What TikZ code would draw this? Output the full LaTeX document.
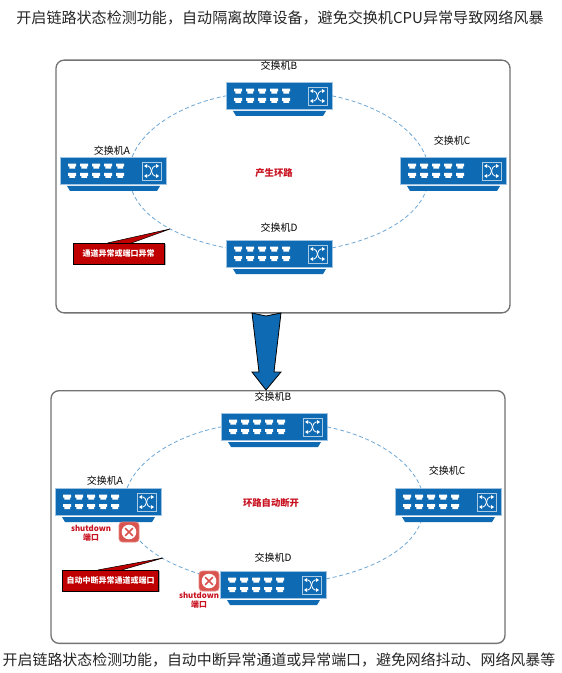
\documentclass[tikz,border=0pt]{standalone}
\usepackage{fontspec}
\setmainfont{Noto Sans CJK SC}
\usetikzlibrary{calc}
\definecolor{swblue}{HTML}{0F6AB4}
\definecolor{ringblue}{HTML}{6FA8D6}
\definecolor{calloutred}{HTML}{C00000}
\definecolor{labelred}{HTML}{C8101E}
\definecolor{iconred}{HTML}{D9534F}
\newcommand{\fs}[1]{\fontsize{#1}{#1}\selectfont}
\tikzset{
  x=0.75pt,y=-0.75pt,
  frame/.style={draw=black!55,line width=1pt,rounded corners=6pt,inner sep=0pt,minimum width=340.5pt,minimum height=189.5pt,fill=white},
  swbody/.style={fill=swblue,draw=swblue!40,line width=.2pt,inner sep=0pt,minimum width=79.5pt,minimum height=20.25pt},
  swlabel/.style={font=\fs{7.5pt},text=black,inner sep=0pt},
  ring/.style={draw=ringblue,line width=.6pt,dash pattern=on 3pt off 2pt},
  midlabel/.style={font=\fs{7pt}\bfseries,text=labelred,inner sep=0pt},
  sdlabel/.style={font=\fs{5.9pt}\bfseries,text=labelred,inner sep=0pt,align=center},
  calloutbox/.style={fill=calloutred,draw=black,line width=.4pt,inner sep=0pt,text=white,font=\fs{6pt}\bfseries},
  title/.style={text=black!85,inner sep=0pt},
  pics/switch/.style={code={
    \node[swbody] (-b) at (53,13.5) {};
    \fill[swblue] (7,29) -- (100,29) -- (97,34) -- (10,34) -- cycle;
    \foreach \px in {8.2,20.2,32.2,44.2,56.2}{
      \foreach \py in {6.7,16}{
        \fill[white] (\px,\py) -- ++(8,0) -- ++(0,2.8) -- ++(-1.2,0) -- ++(0,2.2) -- ++(-5.6,0) -- ++(0,-2.2) -- ++(-1.2,0) -- cycle;
      }
    }
    \draw[swblue!35!white,line width=.6pt] (82,5) rectangle (101,23);
    \draw[white,line width=.6pt] (85,9) -- (88,9) .. controls (92,9) and (91,19) .. (95,19) -- (98,19);
    \draw[white,line width=.6pt] (85,19) -- (88,19) .. controls (92,19) and (91,9) .. (95,9) -- (98,9);
    \fill[white] (99,9) -- (96,7) -- (96,11) -- cycle (99,19) -- (96,17) -- (96,21) -- cycle;
    \fill[white] (84,9) -- (87,7) -- (87,11) -- cycle (84,19) -- (87,17) -- (87,21) -- cycle;
  }},
  pics/faulticon/.style={code={
    \draw[fill=iconred,draw=iconred!70!white,line width=.5pt,rounded corners=2.5pt] (-10,-10) rectangle (10,10);
    \fill[white] (0,0) circle (7.3);
    \draw[iconred,line width=1.2pt] (-3.8,-3.8) -- (3.8,3.8) (-3.8,3.8) -- (3.8,-3.8);
  }},
}
\begin{document}
\begin{tikzpicture}
\useasboundingbox (0,0) rectangle (561,673);
\fill[white] (0,0) rectangle (561,673);

\node[title,font=\fs{11.3pt}] (t1) at (280,18) {开启链路状态检测功能，自动隔离故障设备，避免交换机CPU异常导致网络风暴};
\node[title,font=\fs{11.2pt}] (t2) at (279,660) {开启链路状态检测功能，自动中断异常通道或异常端口，避免网络抖动、网络风暴等};

\node[frame] (f1) at (283,186.5) {};
\node[frame] (f2) at (278,517) {};

% block arrow
\draw[fill=swblue,draw=black,line width=.6pt,line join=miter]
  (252,313) -- (266,316) -- (281,313) -- (274,372) -- (281,372) -- (266,390) -- (252,372) -- (259,372) -- cycle;

% upper ring
\pic (A) at (60,157) {switch};
\pic (B) at (226,82) {switch};
\pic (C) at (400,157) {switch};
\pic (D) at (226,240) {switch};
\draw[ring] ($(A-b.north east)+(-34,0)$) .. controls +(10.3,-26.9) and +(-48.2,9.7) .. ($(B-b.north west)+(0,14)$);
\draw[ring] ($(B-b.north east)+(0,14)$) .. controls +(48.2,9.7) and +(-10.3,-26.9) .. ($(C-b.north west)+(26,0)$);
\draw[ring] ($(A-b.south east)+(-34,7)$) .. controls +(10.3,26.9) and +(-48.2,-9.7) .. ($(D-b.north west)+(0,8)$);
\draw[ring] ($(D-b.north east)+(0,8)$) .. controls +(48.2,-9.7) and +(-10.3,26.9) .. ($(C-b.south west)+(26,7)$);

\node[swlabel] (lA) at (112,150.5) {交换机A};
\node[swlabel] (lB) at (279,66) {交换机B};
\node[swlabel] (lC) at (452,141) {交换机C};
\node[swlabel] (lD) at (279,228) {交换机D};
\node[midlabel] (m1) at (274,173) {产生环路};

\fill[black!30] (74,244) rectangle (166,265);
\node[calloutbox,minimum width=68.25pt,minimum height=15.5pt] (c1) at (118.5,253.5) {通道异常或端口异常};
\coordinate (c1tip) at (170,229);
\draw[fill=calloutred,draw=black,line width=.4pt] ($(c1.north west)+(35,0)$) -- (c1tip) -- ($(c1.north west)+(59,0)$);

% lower ring
\pic (A2) at (55,488) {switch};
\pic (B2) at (221,413) {switch};
\pic (C2) at (395,488) {switch};
\pic (D2) at (220,571) {switch};
\draw[ring] ($(A2-b.north east)+(-34,0)$) .. controls +(10.3,-26.9) and +(-48.2,9.7) .. ($(B2-b.north west)+(0,14)$);
\draw[ring] ($(B2-b.north east)+(0,14)$) .. controls +(48.2,9.7) and +(-10.3,-26.9) .. ($(C2-b.north west)+(26,0)$);
\coordinate (gapA) at (140,541);
\draw[ring] (gapA) .. controls +(13.3,14.1) and +(-25.8,-7.8) .. (200,574);
\draw[ring] ($(D2-b.north east)+(0,8)$) .. controls +(48.2,-9.7) and +(-10.3,26.9) .. ($(C2-b.south west)+(26,7)$);

\node[swlabel] (lA2) at (105,481) {交换机A};
\node[swlabel] (lB2) at (273,397) {交换机B};
\node[swlabel] (lC2) at (447,471) {交换机C};
\node[swlabel] (lD2) at (273,558) {交换机D};
\node[midlabel] (m2) at (271,503) {环路自动断开};

\pic at (129,532) {faulticon};
\pic at (209,581) {faulticon};
\node[sdlabel] (s1) at (91,533.5) {shutdown\\[0.6pt]端口};
\node[sdlabel] (s2) at (199,600) {shutdown\\[0.6pt]端口};

\fill[black!30] (63,571) rectangle (160,592);
\node[calloutbox,minimum width=72.25pt,minimum height=15.5pt] (c2) at (110.5,580.5) {自动中断异常通道或端口};
\coordinate (c2tip) at (163,558);
\draw[fill=calloutred,draw=black,line width=.4pt] ($(c2.north west)+(36,0)$) -- (c2tip) -- ($(c2.north west)+(60,0)$);
\end{tikzpicture}
\end{document}
